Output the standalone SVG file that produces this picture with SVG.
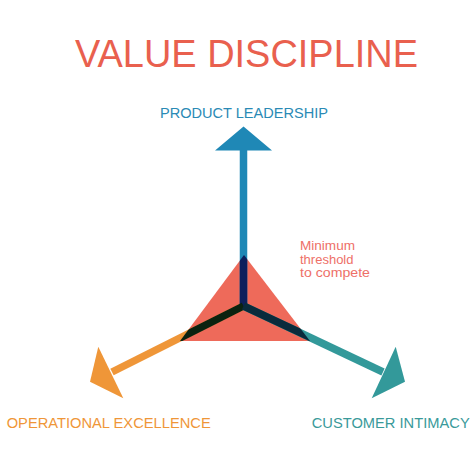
<svg xmlns="http://www.w3.org/2000/svg" width="474" height="474" viewBox="0 0 474 474">
  <style>
    text { font-family: "Liberation Sans", Arial, sans-serif; }
    .title { font-size: 39px; fill: #e9604e; }
    .lbl { font-size: 15px; }
    .note { font-size: 13px; fill: #ee7068; }
    .shaft { stroke-width: 7.5; fill: none; stroke-linecap: butt; }
  </style>
  <defs>
    <clipPath id="triClip">
      <polygon points="244,255 180,341 310,341"/>
    </clipPath>
  </defs>
  <rect width="474" height="474" fill="#ffffff"/>

  <g id="title">
    <text class="title" x="75" y="66.5" textLength="343" lengthAdjust="spacingAndGlyphs">VALUE DISCIPLINE</text>
  </g>

  <g id="threshold-triangle">
    <polygon points="244,255 180,341 310,341" fill="#ee6a5a"/>
  </g>

  <g id="connectors">
    <!-- Product leadership (up) -->
    <line class="shaft" x1="243.5" y1="306" x2="243.5" y2="149" stroke="#1f88b6"/>
    <polygon points="243.5,126.5 215,150.5 272,150.5" fill="#1f88b6"/>
    <!-- Operational excellence (down-left) -->
    <line class="shaft" x1="243.5" y1="306" x2="112" y2="372" stroke="#ef9638"/>
    <polygon points="90,381.7 98.3,346.7 123.3,398.3" fill="#ef9638"/>
    <!-- Customer intimacy (down-right) -->
    <line class="shaft" x1="243.5" y1="306" x2="383" y2="372" stroke="#33999a"/>
    <polygon points="405,381.7 395.7,346.7 371.7,398.3" fill="#33999a"/>
    <!-- dark overlay inside triangle -->
    <g clip-path="url(#triClip)">
      <line class="shaft" x1="243.5" y1="309" x2="243.5" y2="250" stroke="#0d1f5c"/>
      <line class="shaft" x1="243.5" y1="306" x2="170" y2="343" stroke="#0b2210"/>
      <line class="shaft" x1="243.5" y1="306" x2="318" y2="341" stroke="#0a2b3c"/>
    </g>
  </g>

  <g id="product-leadership">
    <text class="lbl" x="160" y="118.3" textLength="168" lengthAdjust="spacingAndGlyphs" fill="#2a8ab5">PRODUCT LEADERSHIP</text>
  </g>
  <g id="operational-excellence">
    <text class="lbl" x="6.7" y="428.3" textLength="204" lengthAdjust="spacingAndGlyphs" fill="#ef9638">OPERATIONAL EXCELLENCE</text>
  </g>
  <g id="customer-intimacy">
    <text class="lbl" x="311.7" y="428.3" textLength="158" lengthAdjust="spacingAndGlyphs" fill="#3a9a9a">CUSTOMER INTIMACY</text>
  </g>
  <g id="minimum-threshold">
    <text class="note" x="300" y="249.5" textLength="55" lengthAdjust="spacingAndGlyphs">Minimum</text>
    <text class="note" x="300" y="263.5" textLength="53.5" lengthAdjust="spacingAndGlyphs">threshold</text>
    <text class="note" x="300" y="277" textLength="70" lengthAdjust="spacingAndGlyphs">to compete</text>
  </g>
</svg>
